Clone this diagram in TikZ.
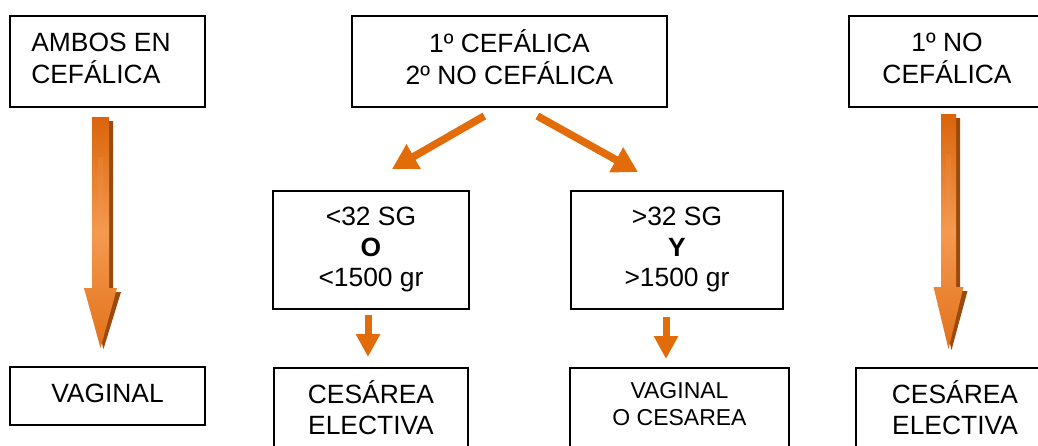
\documentclass[tikz,border=0pt]{standalone}
\usepackage{fontspec}
\setmainfont{Liberation Sans}
\usetikzlibrary{arrows.meta,calc}
\definecolor{org}{HTML}{E36C0A}
\definecolor{orgL}{HTML}{F49A50}
\definecolor{orgD}{HTML}{DA640A}
\definecolor{orgB}{HTML}{E2711A}
\definecolor{shd}{HTML}{9A4A0C}
\newcommand\fmain{\fontsize{26.4}{30.5}\selectfont}
\newcommand\fsmall{\fontsize{23}{26.7}\selectfont}
\newcommand\lnsc[1]{\begin{tabular}{@{}c@{}}#1\end{tabular}}
% block arrow: cx, top, headbase, tip, shaft half width, head half width
\newcommand\blkarrow[6]{%
  \fill[shd] ({#1-#5+4},{#2+4}) -- ({#1+#5+4},{#2+4}) -- ({#1+#5+4},{#3+4}) -- ({#1+#6+4},{#3+4}) -- ({#1+3},{#4+1}) -- ({#1-#6+4},{#3+4}) -- ({#1-#5+4},{#3+4}) -- cycle;
  \path[shading=axis, top color=orgD, bottom color=orgB, middle color=orgL] ({#1-#5},#2) -- ({#1+#5},#2) -- ({#1+#5},#3) -- ({#1+#6},#3) -- (#1,#4) -- ({#1-#6},#3) -- ({#1-#5},#3) -- cycle;
  \fill[orgL, opacity=0.2] ({#1-#5*0.35},{#2+40}) rectangle ({#1+#5*0.35},{#3-30});}
\begin{document}
\begin{tikzpicture}[x=1pt,y=-1pt,
  box/.style={draw=black, line width=1.6pt, rectangle, inner sep=0pt, font=\fmain},
  txt/.style={inner sep=0pt, font=\fmain},
  diagarr/.style={draw=org, line width=7.5pt, -{Triangle[length=25pt,width=27pt]}},
  smallarr/.style={draw=org, line width=7pt, -{Triangle[length=23pt,width=23pt]}}]
\useasboundingbox (0,0) rectangle (1038,445);
\clip (0,0) rectangle (1038,445);
\fill[white] (0,0) rectangle (1038,445);

% top row
\node[box, minimum width=195pt, minimum height=91pt] (ambos) at (107.5,61.5)
  {\begin{tabular}{@{}l@{\hspace{13pt}}}AMBOS EN\\CEFÁLICA\end{tabular}};
\node[box, minimum width=315pt, minimum height=91pt] (mixta) at (509.5,61.5)
  {\lnsc{1º CEFÁLICA\\2º NO CEFÁLICA}};
\node[box, minimum width=196pt, minimum height=91pt] (nocef) at (947,61.5)
  {\lnsc{1º NO\\CEFÁLICA}};

% middle row
\node[box, minimum width=196pt, minimum height=118pt] (menos) at (371,250)
  {\lnsc{<32 SG\\\textbf{O}\\<1500 gr}};
\node[box, minimum width=212pt, minimum height=118pt] (mas) at (677,250)
  {\lnsc{>32 SG\\\textbf{Y}\\>1500 gr}};

% bottom row
\node[box, minimum width=195pt, minimum height=58pt] (vaginal) at (107.5,396)
  {\lnsc{VAGINAL}};
\node[box, anchor=north, minimum width=194pt, minimum height=100pt] (cesA) at (371,367) {};
\node[txt] (cesAt) at (371,411.9) {\lnsc{CESÁREA\\ELECTIVA}};
\node[box, anchor=north, minimum width=219pt, minimum height=100pt] (vagoces) at (679.5,367) {};
\node[txt, font=\fsmall] (vagocest) at (679.5,407) {\lnsc{VAGINAL\\O CESAREA}};
\node[box, anchor=north, minimum width=198pt, minimum height=100pt] (cesB) at (955,367) {};
\node[txt] (cesBt) at (955,411.9) {\lnsc{CESÁREA\\ELECTIVA}};

% big block arrows
\blkarrow{100.5}{117}{288}{348}{8.5}{16.5}
\blkarrow{948.5}{114}{287}{349}{7.5}{15}

% diagonal arrows
\coordinate (dlA) at (484.3,116);
\coordinate (dlB) at (392,169);
\coordinate (drA) at (537.3,116);
\coordinate (drB) at (638,172);
\draw[diagarr] (dlA) -- (dlB);
\draw[diagarr] (drA) -- (drB);

% small arrows
\coordinate (slA) at (368,315);
\coordinate (slB) at (368,357);
\coordinate (srA) at (666,317);
\coordinate (srB) at (666,359);
\draw[smallarr] (slA) -- (slB);
\draw[smallarr] (srA) -- (srB);
\end{tikzpicture}
\end{document}
